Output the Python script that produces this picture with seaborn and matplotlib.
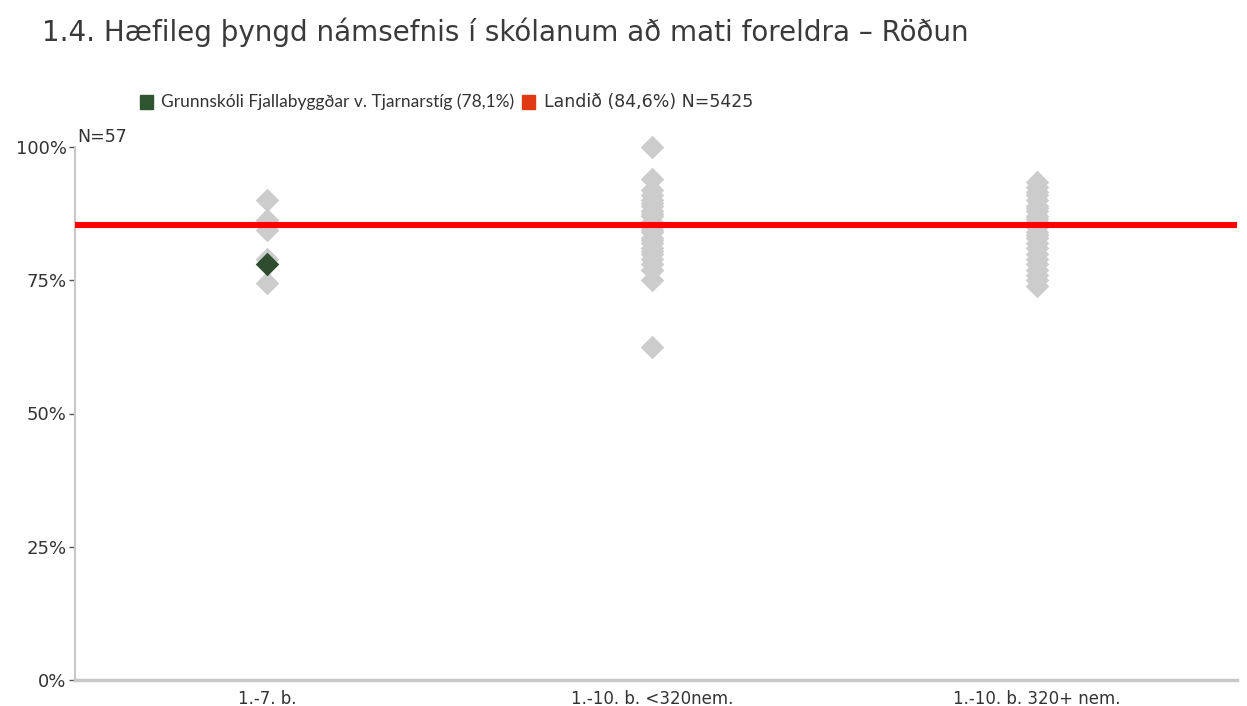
import matplotlib
matplotlib.use("Agg")
import matplotlib.pyplot as plt
from matplotlib.ticker import FixedLocator, FuncFormatter
import seaborn as sns
import pandas as pd

# ---- data ----
categories = ["1.-7. b.", "1.-10. b. <320nem.", "1.-10. b. 320+ nem."]
vals_small = [0.90, 0.863, 0.844, 0.79, 0.745]
vals_mid = [1.00, 0.94, 0.92, 0.91, 0.90, 0.895, 0.89, 0.88, 0.875, 0.87, 0.86,
            0.855, 0.85, 0.845, 0.84, 0.83, 0.825, 0.82, 0.81, 0.805, 0.80,
            0.79, 0.78, 0.77, 0.75, 0.625]
vals_large = [0.935, 0.925, 0.915, 0.91, 0.90, 0.89, 0.885, 0.88, 0.87, 0.865,
              0.86, 0.855, 0.85, 0.84, 0.835, 0.83, 0.82, 0.81, 0.80, 0.79,
              0.78, 0.77, 0.76, 0.75, 0.74]
school_category = "1.-7. b."
school_value = 0.781
national_value = 0.853
y_ticks = [0, 0.25, 0.5, 0.75, 1.0]

title = "1.4. Hæfileg þyngd námsefnis í skólanum að mati foreldra – Röðun"
legend_school = "Grunnskóli Fjallabyggðar v. Tjarnarstíg (78,1%)"
legend_national = "Landið (84,6%) N=5425"
legend_n = "N=57"

# ---- build table ----
rows = []
for cat, vals in zip(categories, [vals_small, vals_mid, vals_large]):
    for v in vals:
        rows.append({"cat": cat, "val": v})
df = pd.DataFrame(rows)
df_school = pd.DataFrame({"cat": [school_category], "val": [school_value]})

sns.set_theme(style="white")
plt.rcParams["font.family"] = ["DejaVu Sans"]

W, H = 1247, 706
fig = plt.figure(figsize=(W / 100, H / 100), dpi=100)
ax = fig.add_axes([75 / W, 1 - 680 / H, (1237 - 75) / W, (680 - 147) / H])

sns.stripplot(data=df, x="cat", y="val", order=categories, jitter=False,
              marker="D", color="#cccccc", size=12, linewidth=0,
              ax=ax, clip_on=False, zorder=2)
ax.axhline(national_value, color="#ff0000", linewidth=4.4, zorder=3)
sns.stripplot(data=df_school, x="cat", y="val", order=categories, jitter=False,
              marker="D", color="#2e4d2f", size=12, linewidth=0,
              ax=ax, clip_on=False, zorder=4)

ax.set_xlim(-0.5, 2.52)
ax.set_ylim(0, 1)
ax.yaxis.set_major_locator(FixedLocator(y_ticks))
ax.yaxis.set_major_formatter(FuncFormatter(lambda v, p: f"{v * 100:.0f}%"))
ax.set_xlabel("")
ax.set_ylabel("")
ax.grid(False)

for s in ["top", "right"]:
    ax.spines[s].set_visible(False)
ax.spines["left"].set_color("#c8c8c8")
ax.spines["left"].set_linewidth(1.5)
ax.spines["bottom"].set_color("#c8c8c8")
ax.spines["bottom"].set_linewidth(2.5)

ax.tick_params(axis="y", which="major", left=True, length=4, width=1,
               color="#555555", labelsize=13, labelcolor="#333333", pad=2)
ax.tick_params(axis="x", which="major", bottom=False, labelsize=12,
               labelcolor="#333333", pad=1)

# title and legend
fig.text(42 / W, 1 - 32 / H, title, fontsize=20, color="#3a3a3a",
         ha="left", va="center")
sq = 13
ly = 1 - 102 / H
fig.patches.append(plt.Rectangle((140 / W, ly - (sq / 2) / H), sq / W, sq / H,
                                 transform=fig.transFigure, color="#2e5430"))
t1 = fig.text(161 / W, ly, legend_school, fontsize=12.5, color="#333333",
              ha="left", va="center", family=["Lato", "DejaVu Sans"])
fig.canvas.draw()
x1 = t1.get_window_extent().x1
fig.patches.append(plt.Rectangle(((x1 + 8) / W, ly - (sq / 2) / H), sq / W, sq / H,
                                 transform=fig.transFigure, color="#e03a12"))
fig.text((x1 + 8 + sq + 9) / W, ly, legend_national, fontsize=12.5, color="#333333",
         ha="left", va="center")
fig.text(77 / W, 1 - 137 / H, legend_n, fontsize=12.5, color="#333333",
         ha="left", va="center")

fig.savefig("out.png", dpi=100)
